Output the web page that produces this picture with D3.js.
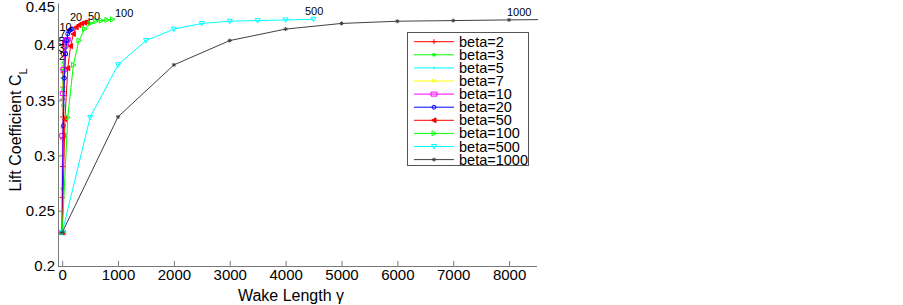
<!DOCTYPE html>
<html>
<head>
<meta charset="utf-8">
<script src="https://cdn.jsdelivr.net/npm/d3@7"></script>
<style>
  body { margin: 0; background: #fff; }
  svg { font-family: "Liberation Sans", Arial, sans-serif; }
  .axis path, .axis line { stroke: #7a7a7a; }
  .axis text { fill: #000; }
</style>
</head>
<body>
<script>
// series names
var betas = [2, 3, 5, 7, 10, 20, 50, 100, 500, 1000];

// wake length / lift coefficient, one pair per beta
var wake_b2 = [0, 2, 4, 6, 8, 10, 12, 14, 16, 18];
var lift_b2 = [0.2303, 0.262, 0.290, 0.315, 0.335, 0.351, 0.362, 0.370, 0.375, 0.378];
var wake_b3 = [0, 3, 6, 9, 12, 15, 18, 21, 24, 27];
var lift_b3 = [0.2303, 0.270, 0.300, 0.325, 0.345, 0.360, 0.370, 0.377, 0.381, 0.384];
var wake_b5 = [0, 5, 10, 15, 20, 25, 30, 35, 40, 45];
var lift_b5 = [0.2303, 0.285, 0.322, 0.350, 0.368, 0.380, 0.386, 0.389, 0.391, 0.392];
var wake_b7 = [0, 7, 14, 21, 28, 35, 42, 49, 56, 63];
var lift_b7 = [0.2303, 0.300, 0.340, 0.364, 0.380, 0.390, 0.395, 0.398, 0.399, 0.3995];
var wake_b10 = [0, 10, 20, 30, 40, 50, 60, 70, 80, 90];
var lift_b10 = [0.2303, 0.318, 0.356, 0.378, 0.392, 0.399, 0.402, 0.404, 0.4047, 0.405];
var wake_b20 = [0, 20, 40, 60, 80, 100, 120, 140, 160, 180];
var lift_b20 = [0.2303, 0.327, 0.370, 0.392, 0.404, 0.410, 0.4125, 0.4135, 0.4142, 0.4145];
var wake_b50 = [0, 50, 100, 150, 200, 250, 300, 350, 400, 450];
var lift_b50 = [0.2303, 0.333, 0.379, 0.399, 0.410, 0.416, 0.418, 0.4195, 0.4203, 0.4208];
var wake_b100 = [0, 100, 200, 300, 400, 500, 600, 700, 800, 900];
var lift_b100 = [0.2303, 0.3345, 0.382, 0.404, 0.4144, 0.4195, 0.4215, 0.4221, 0.4227, 0.4232];
var wake_b500 = [0, 500, 1000, 1500, 2000, 2500, 3000, 3500, 4000, 4500];
var lift_b500 = [0.2303, 0.3345, 0.382, 0.404, 0.4144, 0.4195, 0.4215, 0.4221, 0.4227, 0.4233];
var wake_b1000 = [0, 1000, 2000, 3000, 4000, 5000, 6000, 7000, 8000, 9000];
var lift_b1000 = [0.2303, 0.335, 0.382, 0.404, 0.4144, 0.4195, 0.4215, 0.4221, 0.4227, 0.4232];

// text labels next to the curve ends
var endLabels = ["2", "3", "5", "7", "10", "20", "50", "100", "500", "1000"];
var endLabelWake = [-57, -66, -66, -48, -48, 140, 462, 945, 4347, 7963];
var endLabelLift = [0.3865, 0.3933, 0.4001, 0.4064, 0.4123, 0.4213, 0.4227, 0.4257, 0.4272, 0.4263];

// ticks
var xTicks = [0, 1000, 2000, 3000, 4000, 5000, 6000, 7000, 8000];
var yTicks = [0.2, 0.25, 0.3, 0.35, 0.4, 0.45];

// styles
var colors = ["#ff0000", "#00ff00", "#00ffff", "#ffff00", "#ff00ff", "#0000ff", "#ff0000", "#00ff00", "#00ffff", "#404040"];
var markers = ["plus", "star", "dot", "cross", "square", "circle", "left", "right", "down", "star"];

var wakes = [wake_b2, wake_b3, wake_b5, wake_b7, wake_b10, wake_b20, wake_b50, wake_b100, wake_b500, wake_b1000];
var lifts = [lift_b2, lift_b3, lift_b5, lift_b7, lift_b10, lift_b20, lift_b50, lift_b100, lift_b500, lift_b1000];

var svg = d3.select("body").append("svg")
    .attr("width", 903)
    .attr("height", 305);

var x = d3.scaleLinear().domain([-75, 8500]).range([58, 537]);
var y = d3.scaleLinear().domain([0.2, 0.438]).range([266, 3]);

function markerPath(kind) {
    switch (kind) {
        case "plus": return "M-2.5,0H2.5M0,-2.5V2.5";
        case "cross": return "M-2,-2L2,2M-2,2L2,-2";
        case "star": return "M-2,0H2M0,-2V2M-1.4,-1.4L1.4,1.4M-1.4,1.4L1.4,-1.4";
        case "dot": return "M0,-1.5V1.5";
        case "square": return "M-3,-2H3V2H-3Z";
        case "circle": return d3.symbol(d3.symbolCircle, 12)();
        case "left": return "M-2.5,0L2,-2.5L2,2.5Z";
        case "right": return "M2.5,0L-2,-2.5L-2,2.5Z";
        case "down": return "M-2.5,-2L2.5,-2L0,2.5Z";
    }
}

function markerFill(i) {
    return (markers[i] === "star" || markers[i] === "left") ? colors[i] : "none";
}

// axes
var xAxis = svg.append("g")
    .attr("class", "axis")
    .attr("transform", "translate(0,266)")
    .call(d3.axisBottom(x).tickValues(xTicks).tickSize(-5).tickSizeOuter(0).tickFormat(d3.format("d")));
xAxis.selectAll("text").style("font-size", "15px");
xAxis.select(".domain").attr("d", "M58,0.5H537");

var yAxis = svg.append("g")
    .attr("class", "axis")
    .attr("transform", "translate(58,0)")
    .call(d3.axisLeft(y).tickValues(yTicks).tickSize(-5).tickSizeOuter(0).tickFormat(function(d) { return String(d); }));
yAxis.selectAll("text").style("font-size", "15px");
// the top tick sits above the drawn axis: keep only its label, pulled in
yAxis.selectAll(".tick")
    .filter(function(d) { return y(d) < 3; })
    .attr("transform", "translate(0,7.5)")
    .select("line").remove();

// axis titles
var ylab = svg.append("text")
    .attr("transform", "translate(21,130) rotate(-90)")
    .attr("text-anchor", "middle")
    .style("font-size", "16px")
    .text("Lift Coefficient C");
ylab.append("tspan")
    .attr("baseline-shift", "sub")
    .style("font-size", "11px")
    .text("L");

svg.append("text")
    .attr("x", 291)
    .attr("y", 301)
    .attr("text-anchor", "middle")
    .style("font-size", "16px")
    .text("Wake Length \u03b3");

// curves
svg.append("clipPath").attr("id", "plotclip")
  .append("rect")
    .attr("x", 58).attr("y", 0)
    .attr("width", 480).attr("height", 267);

var plot = svg.append("g").attr("clip-path", "url(#plotclip)");

var line = d3.line()
    .x(function(d) { return x(d[0]); })
    .y(function(d) { return y(d[1]); });

betas.forEach(function(b, i) {
    var pts = wakes[i].map(function(w, j) { return [w, lifts[i][j]]; });
    plot.append("path")
        .datum(pts)
        .attr("d", line)
        .attr("fill", "none")
        .attr("stroke", colors[i])
        .attr("stroke-width", 1);
    plot.selectAll(null)
        .data(pts)
        .enter().append("path")
        .attr("transform", function(d) { return "translate(" + x(d[0]) + "," + y(d[1]) + ")"; })
        .attr("d", markerPath(markers[i]))
        .attr("fill", markerFill(i))
        .attr("stroke", colors[i])
        .attr("stroke-width", 1);
});

// curve end labels
svg.selectAll(".endlabel")
    .data(endLabels)
    .enter().append("text")
    .attr("class", "endlabel")
    .attr("x", function(d, i) { return x(endLabelWake[i]); })
    .attr("y", function(d, i) { return y(endLabelLift[i]); })
    .attr("fill", "#000")
    .style("font-size", "11px")
    .text(function(d) { return d; });

// legend
var legend = svg.append("g");
legend.append("rect")
    .attr("x", 407.5).attr("y", 32.5)
    .attr("width", 121).attr("height", 133)
    .attr("fill", "#fff")
    .attr("stroke", "#555");

betas.forEach(function(b, i) {
    var ly = 41.7 + i * 13.1;
    legend.append("line")
        .attr("x1", 414).attr("x2", 454)
        .attr("y1", ly).attr("y2", ly)
        .attr("stroke", colors[i]);
    legend.append("path")
        .attr("transform", "translate(434," + ly + ")")
        .attr("d", markerPath(markers[i]))
        .attr("fill", markerFill(i))
        .attr("stroke", colors[i]);
    legend.append("text")
        .attr("x", 459)
        .attr("y", ly)
        .attr("dy", "0.35em")
        .attr("fill", "#000")
        .style("font-size", "14.5px")
        .text("beta=" + b);
});
</script>
</body>
</html>
